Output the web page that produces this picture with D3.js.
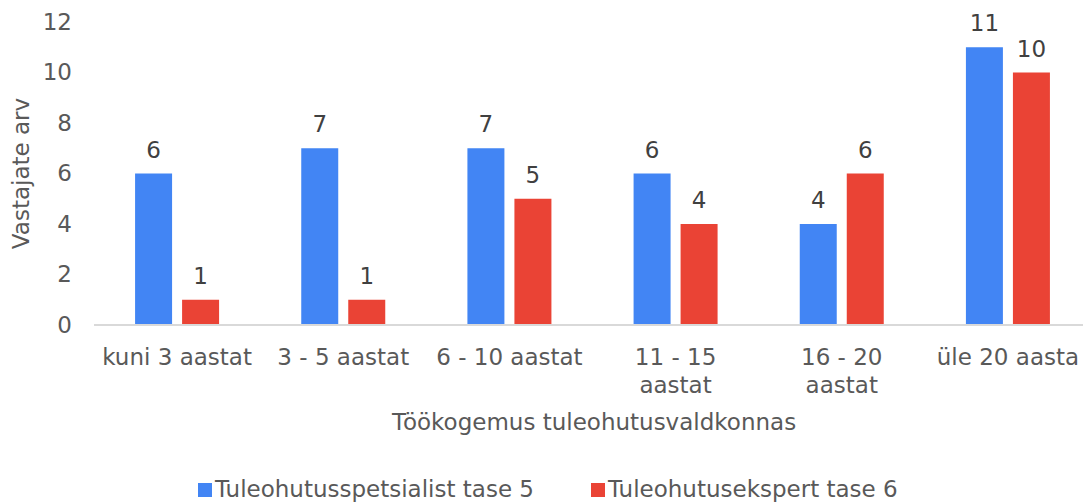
<!DOCTYPE html>
<html>
<head>
<meta charset="utf-8">
<script src="https://cdn.jsdelivr.net/npm/d3@7"></script>
<style>
  body { margin: 0; background: #fff; }
  svg text { font-family: "DejaVu Sans", Verdana, sans-serif; font-size: 23px; }
</style>
</head>
<body>
<div id="chart"></div>
<script>
// data
const categories = ["kuni 3 aastat", "3 - 5 aastat", "6 - 10 aastat", "11 - 15\naastat", "16 - 20\naastat", "üle 20 aasta"];
const seriesNames = ["Tuleohutusspetsialist tase 5", "Tuleohutusekspert tase 6"];
const tase5 = [6, 7, 7, 6, 4, 11];
const tase6 = [1, 1, 5, 4, 6, 10];
const yTicks = [0, 2, 4, 6, 8, 10, 12];

const colors = ["#4285F4", "#EA4335"];
const width = 1083, height = 502;
const textColor = "#595959";

const svg = d3.select("#chart")
  .append("svg")
  .attr("width", width)
  .attr("height", height);

const x0 = d3.scaleBand().domain(d3.range(categories.length)).range([94, 1091]);
const x1 = d3.scaleBand().domain([0, 1]).range([0, x0.bandwidth()])
  .paddingInner(0.213).paddingOuter(0.874);
const y = d3.scaleLinear().domain([0, 12]).range([325, 22]);

// y tick labels (no axis line)
const yAxis = svg.append("g")
  .attr("transform", "translate(72,0)")
  .call(d3.axisLeft(y).tickValues(yTicks).tickSize(0).tickPadding(0));
yAxis.select(".domain").remove();
yAxis.selectAll("text")
  .style("font-family", "DejaVu Sans, Verdana, sans-serif")
  .style("font-size", "23px")
  .style("fill", textColor);

// baseline
svg.append("line")
  .attr("x1", 94).attr("x2", width)
  .attr("y1", y(0)).attr("y2", y(0))
  .attr("stroke", "#d9d9d9")
  .attr("stroke-width", 2);

// bars
const rows = categories.map((c, i) => ({ i, values: [tase5[i], tase6[i]] }));
const groups = svg.selectAll(".grp")
  .data(rows)
  .enter()
  .append("g")
  .attr("transform", d => `translate(${x0(d.i)},0)`);

groups.selectAll("rect")
  .data(d => d.values.map((v, s) => ({ v, s })))
  .enter()
  .append("rect")
  .attr("x", d => x1(d.s))
  .attr("width", x1.bandwidth())
  .attr("y", d => y(d.v))
  .attr("height", d => y(0) - y(d.v) - 1)
  .style("fill", d => colors[d.s]);

groups.selectAll(".val")
  .data(d => d.values.map((v, s) => ({ v, s })))
  .enter()
  .append("text")
  .attr("x", d => x1(d.s) + x1.bandwidth() / 2)
  .attr("y", d => y(d.v) - 16)
  .attr("text-anchor", "middle")
  .style("fill", "#404040")
  .text(d => d.v);

// category labels
const catLabels = svg.selectAll(".cat")
  .data(categories)
  .enter()
  .append("text")
  .attr("text-anchor", "middle")
  .attr("transform", (d, i) => `translate(${x0(i) + x0.bandwidth() / 2},365)`)
  .style("fill", textColor);
catLabels.selectAll("tspan")
  .data(d => d.split("\n"))
  .enter()
  .append("tspan")
  .attr("x", 0)
  .attr("dy", (d, i) => i === 0 ? 0 : 28)
  .text(d => d);

// axis titles
svg.append("text")
  .attr("x", 594)
  .attr("y", 430)
  .attr("text-anchor", "middle")
  .style("fill", textColor)
  .text("Töökogemus tuleohutusvaldkonnas");

svg.append("text")
  .attr("transform", `translate(29,${(y(0) + y(12)) / 2}) rotate(-90)`)
  .attr("text-anchor", "middle")
  .style("fill", textColor)
  .text("Vastajate arv");

// legend
const legendX = [198, 591];
const legend = svg.selectAll(".leg")
  .data(seriesNames)
  .enter()
  .append("g")
  .attr("transform", (d, i) => `translate(${legendX[i]},483)`);
legend.append("rect")
  .attr("width", 14).attr("height", 14)
  .style("fill", (d, i) => colors[i]);
legend.append("text")
  .attr("x", 17)
  .attr("y", 14)
  .style("fill", textColor)
  .text(d => d);
</script>
</body>
</html>
